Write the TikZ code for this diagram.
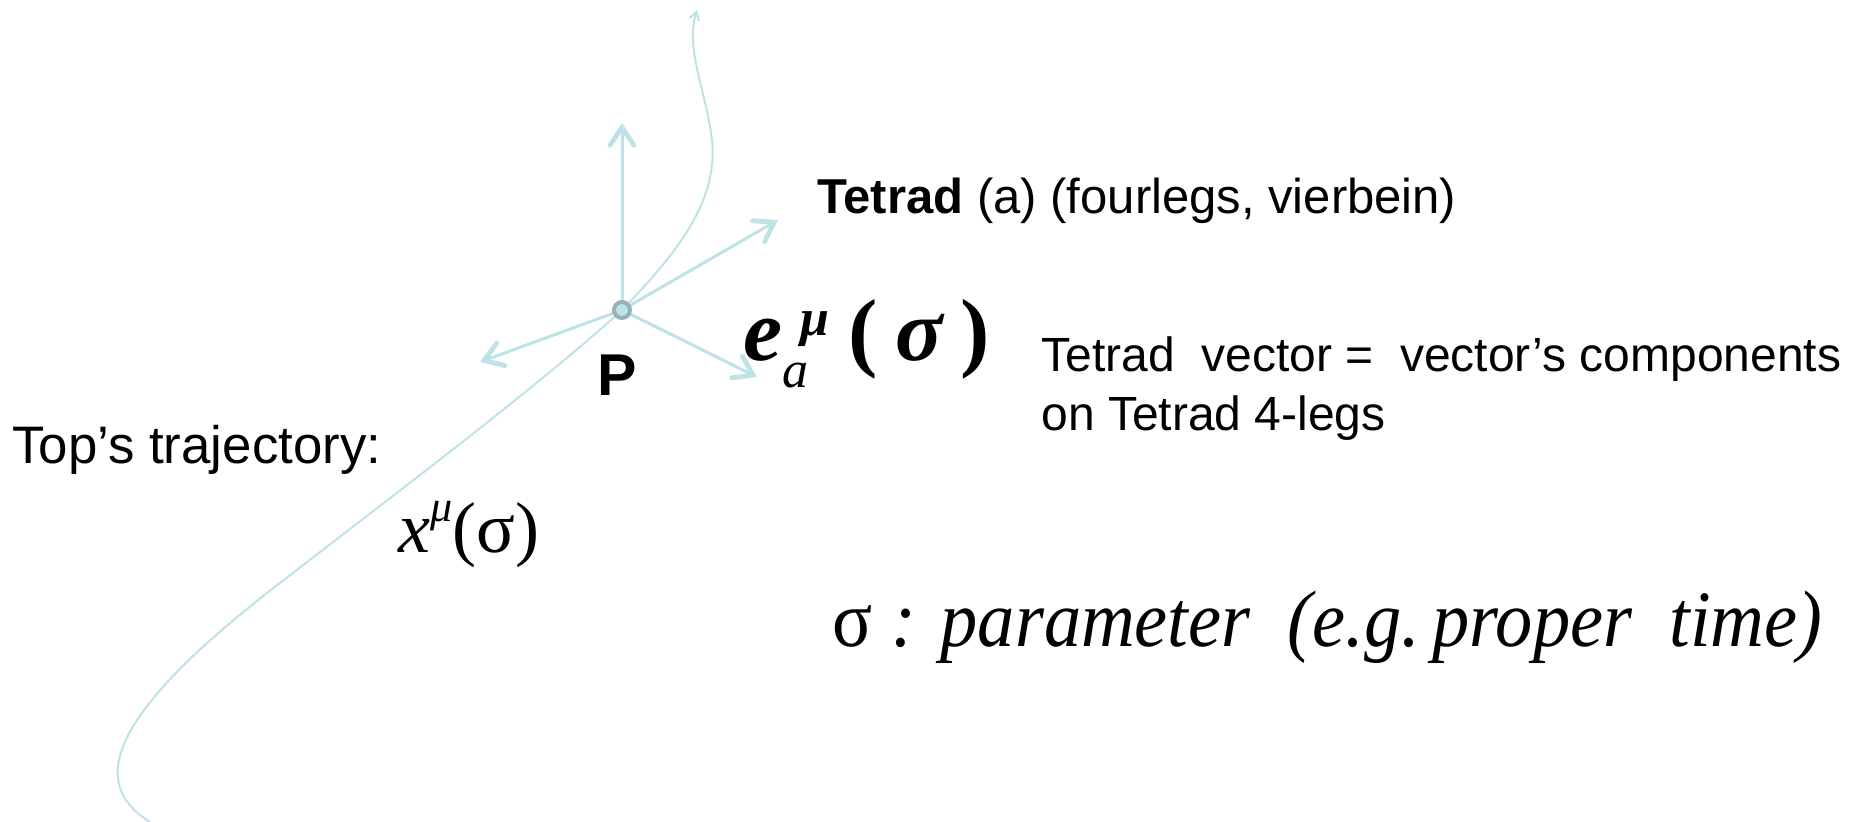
\documentclass[tikz,border=0pt]{standalone}
\usepackage{fontspec}
\setmainfont{Liberation Sans}
\newfontfamily\tms{Liberation Serif}
\usetikzlibrary{arrows.meta}
\definecolor{legcolor}{RGB}{190,226,230}
\definecolor{ringcolor}{RGB}{150,178,184}

\tikzset{
  leg/.style={legcolor, line width=1.5pt,
    -{Straight Barb[length=9pt,width=12pt,line cap=round,line width=2.4pt]}},
  path line/.style={legcolor, line width=1pt},
  label text/.style={inner sep=0pt, anchor=base west},
}

\begin{document}
\begin{tikzpicture}[x=0.5pt, y=-0.5pt]
    \useasboundingbox (0,0) rectangle (1860,821);

    % Trajectory of the top
    \draw[path line, -{Straight Barb[length=4pt,width=5pt]}]
        (150,822) .. controls (90,785) and (105,720) .. (267,593)
        .. controls (400,490) and (540,385) .. (622,310)
        .. controls (680,250) and (718,200) .. (712,140)
        .. controls (706,90) and (685,50) .. (697,10);

    % Tetrad legs at P
    \coordinate (P) at (622,310);
    \coordinate (legup) at (622,123);
    \coordinate (legright) at (778,220);
    \coordinate (legleft) at (480,362);
    \coordinate (legdown) at (757,377);
    \draw[leg] (P) -- (legup);
    \draw[leg] (P) -- (legright);
    \draw[leg] (P) -- (legleft);
    \draw[leg] (P) -- (legdown);
    \filldraw[draw=ringcolor, fill=legcolor, line width=2pt] (P) circle (8);

    % Labels
    \node[font=\bfseries\fontsize{29.5}{34}\selectfont, inner sep=0pt, anchor=base]
        (plabel) at (617,395) {P};
    \node[label text, font=\fontsize{24.5}{29}\selectfont]
        (tetradlabel) at (817,213) {\textbf{Tetrad} (a) (fourlegs, vierbein)};
    \node[label text, font=\tms\fontsize{44}{50}\selectfont]
        (tetradsym) at (743,360)
        {{\bfseries\itshape e}\rlap{\raisebox{-0.31em}{\fontsize{26}{26}\selectfont\itshape a}}%
         \raisebox{0.28em}{\kern0.2em\fontsize{26}{26}\selectfont\bfseries\itshape μ}%
         \kern0.22em{\bfseries(\kern0.2em\itshape σ\upshape\kern0.2em)}};
    \node[label text, font=\fontsize{24}{29}\selectfont]
        (vectornote) at (1041,371) {Tetrad\ \ vector =\ \ vector’s components};
    \node[label text, font=\fontsize{24}{29}\selectfont]
        (vectornotetwo) at (1041,430) {on Tetrad 4-legs};
    \node[label text, font=\fontsize{26.4}{31}\selectfont]
        (trajlabel) at (12,463) {Top’s trajectory:};
    \node[label text, font=\tms\fontsize{36}{42}\selectfont]
        (trajsym) at (398,552)
        {\textit{x}\raisebox{0.42em}{\fontsize{22}{22}\selectfont\itshape μ}(σ)};
    \node[label text, font=\tms\itshape\fontsize{40}{46}\selectfont]
        (paramnote) at (832,646)
        {\scalebox{0.93}[1]{{\upshape σ} : parameter\ \ (e.g.\,proper\ \ time)}};
\end{tikzpicture}
\end{document}
